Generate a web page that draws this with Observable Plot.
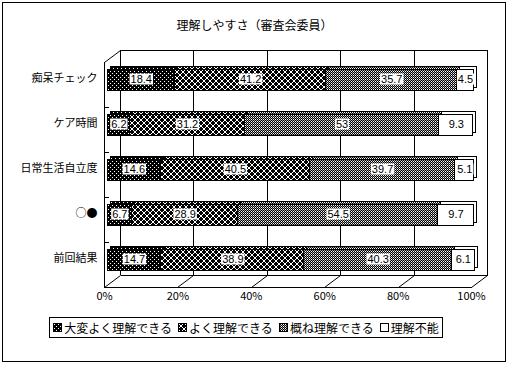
<!DOCTYPE html>
<html><head><meta charset="utf-8">
<script src="https://cdn.jsdelivr.net/npm/d3@7"></script>
<script src="https://cdn.jsdelivr.net/npm/@observablehq/plot@0.6"></script>
<style>
body{margin:0;background:#fff;}
#wrap{position:relative;width:509px;height:365px;overflow:hidden;font-family:"Noto Sans CJK JP",sans-serif;color:#000;}
#border{position:absolute;left:2px;top:2px;width:504px;height:360px;border:1px solid #000;box-sizing:border-box;}
#title{position:absolute;left:0;width:509px;top:15px;text-align:center;font-size:12px;line-height:20px;}
#plot{position:absolute;left:0;top:0;}
#legend{position:absolute;left:49px;top:317px;width:394px;height:21px;border:1px solid #000;box-sizing:border-box;display:flex;align-items:center;justify-content:center;font-size:12px;white-space:nowrap;background:#fff;}
.item{display:flex;align-items:center;margin:0 3px;}
.item svg{margin-right:2px;}
</style></head><body>
<svg width="0" height="0" style="position:absolute"><defs id="defs"></defs></svg>
<div id="wrap">
  <div id="border"></div>
  <div id="plot"></div>
  <div id="title">理解しやすさ（審査会委員）</div>
  <div id="legend"></div>
</div>
<script>
const categories = ["痴呆チェック", "ケア時間", "日常生活自立度", "○●", "前回結果"];
const series = ["大変よく理解できる", "よく理解できる", "概ね理解できる", "理解不能"];
const veryWell = [18.4, 6.2, 14.6, 6.7, 14.7];
const well = [41.2, 31.2, 40.5, 28.9, 38.9];
const mostly = [35.7, 53, 39.7, 54.5, 40.3];
const notUnderstood = [4.5, 9.3, 5.1, 9.7, 6.1];
const xTicks = [0, 20, 40, 60, 80, 100];
const patternIds = ["p1", "p2", "p3", "p4"];

// build patterns
const ns = "http://www.w3.org/2000/svg";
const defs = document.getElementById("defs");
function makePattern(id, size, bg, pixels) {
  const p = document.createElementNS(ns, "pattern");
  p.setAttribute("id", id); p.setAttribute("width", size); p.setAttribute("height", size);
  p.setAttribute("patternUnits", "userSpaceOnUse");
  const r = document.createElementNS(ns, "rect");
  r.setAttribute("width", size); r.setAttribute("height", size); r.setAttribute("fill", bg);
  p.appendChild(r);
  for (const [x, y, c] of pixels) {
    const q = document.createElementNS(ns, "rect");
    q.setAttribute("x", x); q.setAttribute("y", y); q.setAttribute("width", 1); q.setAttribute("height", 1);
    q.setAttribute("fill", c); p.appendChild(q);
  }
  defs.appendChild(p);
}
makePattern("p1", 4, "#000", [[1, 1, "#fff"], [3, 3, "#fff"]]);
const xs = [];
for (let i = 0; i < 6; i++) { xs.push([i, i, "#fff"]); if (5 - i !== i) xs.push([5 - i, i, "#fff"]); }
makePattern("p2", 6, "#000", xs);
makePattern("p3", 2, "#fff", [[0, 0, "#000"], [1, 1, "#000"], [1, 0, "#9a9a9a"]]);
makePattern("p4", 2, "#fff", []);

const seriesValues = [veryWell, well, mostly, notUnderstood];
const data = [];
categories.forEach((c, i) => series.forEach((s, j) => data.push({cat: c, series: s, value: seriesValues[j][i]})));

const D = 16, E = 12;
function frame3d(index, scales, values, dims) {
  const x = scales.x;
  const top = dims.marginTop, bottom = dims.height - dims.marginBottom;
  const g = d3.create("svg:g").attr("fill", "none").attr("stroke", "black");
  const line = (x1, y1, x2, y2, crisp) => g.append("line").attr("x1", x1).attr("y1", y1).attr("x2", x2).attr("y2", y2)
    .attr("shape-rendering", crisp ? "crispEdges" : null);
  const x0 = Math.round(x(0)) + 0.5, x100 = Math.round(x(100)) + 0.5;
  line(x0 + D, top + 0.5, x100 + D, top + 0.5, true);
  line(x0 + D, bottom - E + 0.5, x100 + D, bottom - E + 0.5, true);
  for (const t of xTicks) {
    const xt = Math.round(x(t)) + 0.5;
    line(xt + D, top, xt + D, bottom - E, true);
    line(xt + D, bottom - E + 0.5, xt, bottom + 0.5, false);
  }
  line(x0, bottom + 0.5, x100, bottom + 0.5, true);
  line(x0, top + E, x0, bottom + 0.5, true);
  line(x0 + D, top + 0.5, x0, top + E + 0.5, false);
  const step = (bottom - top - E) / categories.length;
  for (let k = 1; k < categories.length; k++) {
    const yk = Math.round(top + E + k * step) + 0.5;
    line(x0, yk, x0 + 4, yk, true);
  }
  return g.node();
}

const plot = Plot.plot({
  width: 509, height: 365,
  marginLeft: 104, marginRight: 38, marginTop: 50, marginBottom: 78,
  style: {fontFamily: '"Noto Sans CJK JP", sans-serif', fontSize: "11px", background: "transparent", color: "black", overflow: "visible"},
  x: {domain: [0, 100], range: [104, 471], ticks: xTicks, tickFormat: d => d + "%", tickSize: 0, tickPadding: 5, label: null},
  y: {domain: categories, range: [43, 292.5], padding: 0.47, tickSize: 0, tickPadding: 7, label: null},
  color: {domain: series, range: patternIds.map(id => `url(#${id})`)},
  marks: [
    frame3d,
    Plot.barX(data, Plot.stackX({x: "value", y: "cat", z: "series", fill: "series", stroke: "black", strokeWidth: 1, insetTop: 3, dx: 6, dy: -3, shapeRendering: "crispEdges"})),
    Plot.barX(data, Plot.stackX({x: "value", y: "cat", z: "series", fill: "series", stroke: "black", strokeWidth: 1, insetTop: 3, dx: 3, shapeRendering: "crispEdges"})),
    Plot.text(data, Plot.stackX({x: "value", y: "cat", z: "series", text: d => String(d.value), dx: 3, dy: 1, fill: "black", fontFamily: "Liberation Sans", fontSize: 11}))
  ]
});
document.getElementById("plot").appendChild(plot);

// white boxes behind value labels
plot.querySelectorAll('g[font-family="Liberation Sans"] text').forEach(t => {
  const b = t.getBBox();
  const r = document.createElementNS(ns, "rect");
  r.setAttribute("x", b.x - 1); r.setAttribute("y", b.y + 0.5);
  r.setAttribute("width", b.width + 2); r.setAttribute("height", b.height - 1);
  r.setAttribute("fill", "white");
  r.setAttribute("stroke", "none");
  const tr = t.getAttribute("transform"); if (tr) r.setAttribute("transform", tr);
  t.parentNode.insertBefore(r, t);
});

// legend
const legend = document.getElementById("legend");
series.forEach((s, i) => {
  const item = document.createElement("span"); item.className = "item";
  item.innerHTML = `<svg width="9" height="9"><rect x="0.5" y="0.5" width="8" height="8" fill="url(#${patternIds[i]})" stroke="black"/></svg><span>${s}</span>`;
  legend.appendChild(item);
});
</script>
</body></html>
